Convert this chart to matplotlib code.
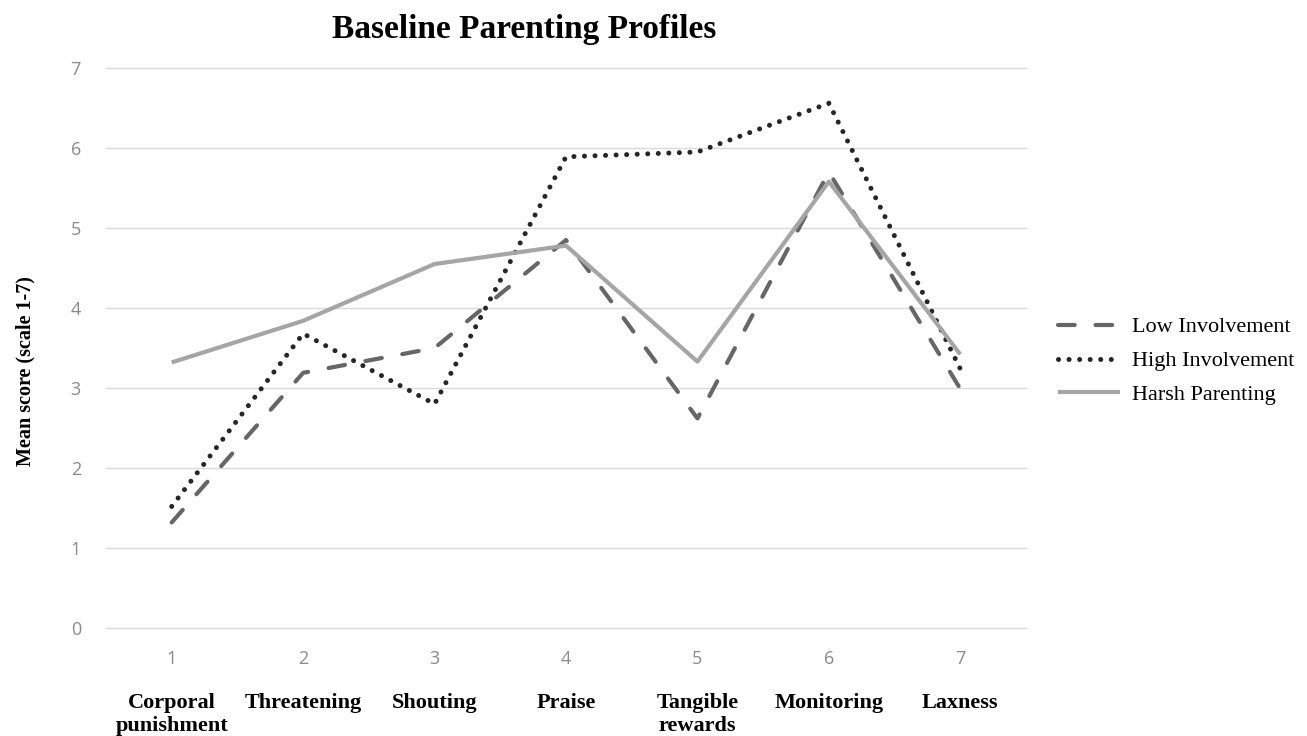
import matplotlib
matplotlib.use("Agg")
import matplotlib.pyplot as plt
import matplotlib.transforms as mtransforms

# values
x_pos = [1, 2, 3, 4, 5, 6, 7]
categories = ["Corporal\npunishment", "Threatening", "Shouting", "Praise",
              "Tangible\nrewards", "Monitoring", "Laxness"]
low_involvement = [1.32, 3.19, 3.50, 4.85, 2.62, 5.70, 2.99]
high_involvement = [1.52, 3.68, 2.80, 5.89, 5.95, 6.56, 3.24]
harsh_parenting = [3.32, 3.84, 4.55, 4.78, 3.33, 5.58, 3.42]
series_names = ["Low Involvement", "High Involvement", "Harsh Parenting"]

serif = "Liberation Serif"

fig = plt.figure(figsize=(13.07, 7.36), dpi=100)
ax = fig.add_axes([0.0811, 0.1467, 0.7039, 0.7609])

ax.plot(x_pos, low_involvement, color="#666666", lw=3, dashes=(4, 5),
        dash_capstyle="round", label=series_names[0])
ax.plot(x_pos, high_involvement, color="#262626", lw=3.6, dashes=(0.01, 2.1),
        dash_capstyle="round", label=series_names[1])
ax.plot(x_pos, harsh_parenting, color="#a5a5a5", lw=3, solid_capstyle="butt",
        label=series_names[2])

ax.set_xlim(0.5, 7.5)
ax.set_ylim(0, 7)
ax.set_yticks(range(0, 8))
ax.set_xticks(x_pos)
ax.grid(axis="y", color="#d9d9d9", lw=1)
ax.set_axisbelow(True)
for gl in ax.get_ygridlines():
    gl.set_clip_on(False)
for s in ax.spines.values():
    s.set_visible(False)
ax.tick_params(length=0, labelsize=13, labelcolor="#8a8a8a")
ax.tick_params(axis="y", pad=18)
ax.tick_params(axis="x", pad=16)
for lab in ax.get_xticklabels() + ax.get_yticklabels():
    lab.set_family("Open Sans")

# category names under the numeric ticks
trans = mtransforms.blended_transform_factory(ax.transData, fig.transFigure)
for xp, name in zip(x_pos, categories):
    ax.text(xp, 1 - 693 / 736, name, transform=trans, ha="center", va="top",
            family=serif, fontweight="bold", fontsize=16, linespacing=1.2)

fig.text(524 / 1307, 1 - 38 / 736, "Baseline Parenting Profiles",
         ha="center", va="baseline", family=serif, fontweight="bold", fontsize=24)
fig.text(25 / 1307, 1 - 371 / 736, "Mean score (scale 1-7)", rotation=90,
         ha="center", va="center", family=serif, fontweight="bold", fontsize=14.5)

fig.legend(loc="center left", bbox_to_anchor=(1058 / 1307, 1 - 361 / 736),
           frameon=False, borderpad=0, borderaxespad=0, handlelength=2.8,
           handletextpad=0.55, labelspacing=0.6,
           prop={"family": serif, "size": 16})

fig.savefig("out.png", dpi=100, facecolor="white")
